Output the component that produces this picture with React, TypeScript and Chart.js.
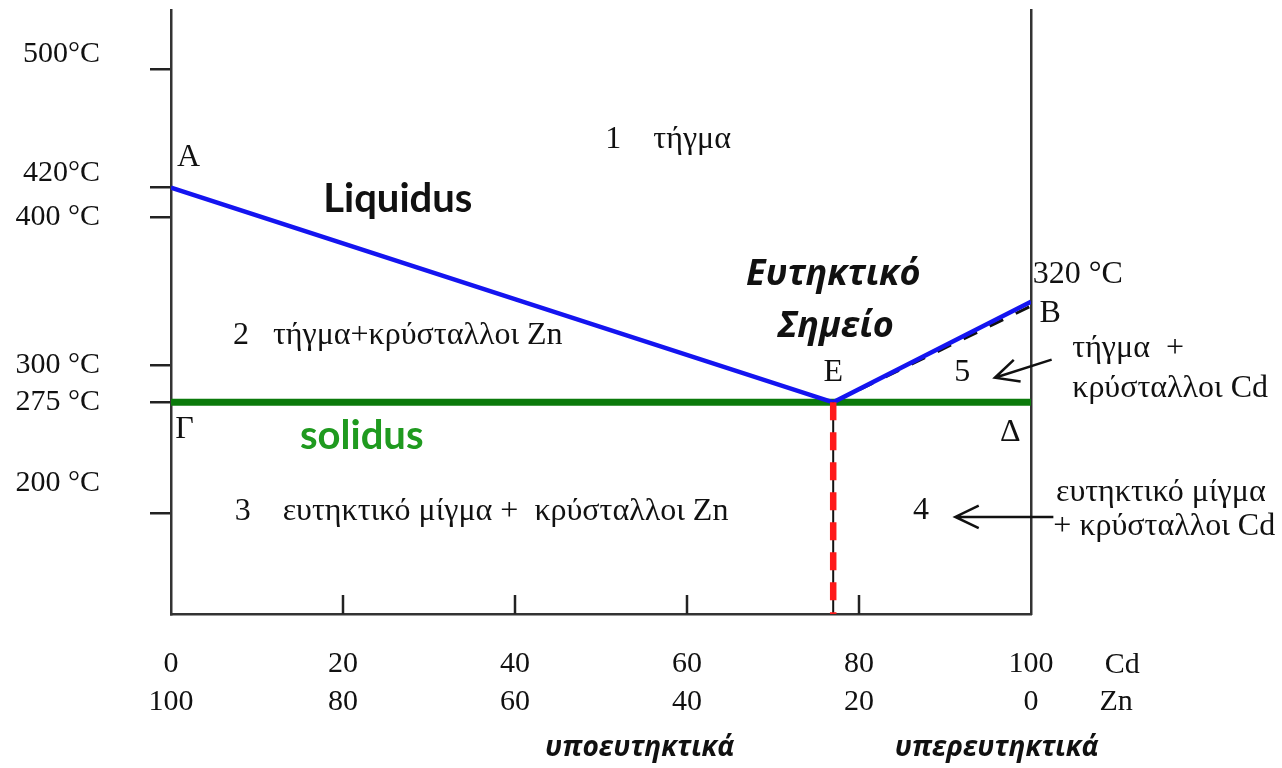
import React, { useEffect, useRef } from "react";
import { Chart, registerables } from "chart.js";

Chart.register(...registerables);

// ---- Data ----
const cdTicks = [0, 20, 40, 60, 80, 100];
const znTicks = [100, 80, 60, 40, 20, 0];
const tempTicks = [200, 275, 300, 400, 420, 500];
const tempTickLabels = ["200 °C", "275 °C", "300 °C", "400 °C", "420°C", "500°C"];

// liquidus A -> E -> B (B as drawn in the picture)
const liquidusX = [0, 77, 100];
const liquidusY = [420, 275, 343];
const liquidusDashX = [77, 100];
const liquidusDashY = [275, 340];
const solidusX = [0, 100];
const solidusY = [275, 275];
const eutecticX = [77, 77];
const eutecticY = [275, 132];

const yMin = 132;
const yMax = 540;

// ---- Styles ----
const SERIF = "'Liberation Serif', 'Times New Roman', serif";
const serifFont = `32px ${SERIF}`;
const boldSans = "bold 40px Lato, 'Open Sans', sans-serif";
const italicBoldSans = "italic bold 36px 'Open Sans', sans-serif";
const italicBoldSansSmall = "italic bold 28px 'Open Sans', sans-serif";
const textColor = "#111";
// how many blank lines to lift a y tick label above its tick (visual placement only)
const yLabelLift: Record<number, number> = { 500: 1, 420: 1, 200: 2 };

type Note = { text: string; x: number; y: number; font: string; color: string; align: CanvasTextAlign };

const notes: Note[] = [
  { text: "A", x: 0.7, y: 440, font: serifFont, color: textColor, align: "left" },
  { text: "1    τήγμα", x: 50.5, y: 452.6, font: serifFont, color: textColor, align: "left" },
  { text: "Liquidus", x: 17.7, y: 412, font: boldSans, color: textColor, align: "left" },
  { text: "Ευτηκτικό", x: 77.0, y: 361, font: italicBoldSans, color: textColor, align: "center" },
  { text: "Σημείο", x: 77.3, y: 326, font: italicBoldSans, color: textColor, align: "center" },
  { text: "320 °C", x: 100.2, y: 361, font: serifFont, color: textColor, align: "left" },
  { text: "B", x: 101, y: 334.6, font: serifFont, color: textColor, align: "left" },
  { text: "2   τήγμα+κρύσταλλοι Zn", x: 7.2, y: 320, font: serifFont, color: textColor, align: "left" },
  { text: "E", x: 77.0, y: 295, font: serifFont, color: textColor, align: "center" },
  { text: "5", x: 92, y: 295, font: serifFont, color: textColor, align: "center" },
  { text: "τήγμα  +", x: 104.8, y: 311, font: serifFont, color: textColor, align: "left" },
  { text: "κρύσταλλοι Cd", x: 104.8, y: 284, font: serifFont, color: textColor, align: "left" },
  { text: "Γ", x: 0.5, y: 256.4, font: serifFont, color: textColor, align: "left" },
  { text: "solidus", x: 15, y: 252.4, font: boldSans, color: "#1f9a1f", align: "left" },
  { text: "Δ", x: 97.6, y: 254.3, font: serifFont, color: textColor, align: "center" },
  { text: "3    ευτηκτικό μίγμα +  κρύσταλλοι Zn", x: 7.4, y: 201, font: serifFont, color: textColor, align: "left" },
  { text: "4", x: 87.2, y: 202, font: serifFont, color: textColor, align: "center" },
  { text: "ευτηκτικό μίγμα", x: 102.9, y: 214, font: serifFont, color: textColor, align: "left" },
  { text: "+ κρύσταλλοι Cd", x: 102.6, y: 191, font: serifFont, color: textColor, align: "left" },
  { text: "Cd", x: 110.6, y: 97.5, font: `30px ${SERIF}`, color: textColor, align: "center" },
  { text: "Zn", x: 109.9, y: 72.5, font: `30px ${SERIF}`, color: textColor, align: "center" },
  { text: "υποευτηκτικά", x: 54.5, y: 41.4, font: italicBoldSansSmall, color: textColor, align: "center" },
  { text: "υπερευτηκτικά", x: 96, y: 41.4, font: italicBoldSansSmall, color: textColor, align: "center" },
];

// arrows: [tailX, tailY, tipX, tipY]
const arrows = [
  [102.4, 303.8, 95.8, 291.6],
  [102.6, 197.6, 91.2, 197.6],
];

const innerTickValues = [20, 40, 60, 80];

const pts = (xs: number[], ys: number[]) => xs.map((x, i) => ({ x, y: ys[i] }));

const annotationPlugin = {
  id: "phaseNotes",
  afterDatasetsDraw(chart: any) {
    const { ctx, scales } = chart;
    const xs = scales.x;
    const ys = scales.y;
    ctx.save();
    // inner x ticks
    ctx.strokeStyle = "#222";
    ctx.lineWidth = 2.5;
    for (const v of innerTickValues) {
      const px = xs.getPixelForValue(v);
      ctx.beginPath();
      ctx.moveTo(px, chart.chartArea.bottom);
      ctx.lineTo(px, chart.chartArea.bottom - 19);
      ctx.stroke();
    }
    // arrows
    ctx.strokeStyle = "#111";
    ctx.lineWidth = 2.5;
    for (const [tx, ty, hx, hy] of arrows) {
      const x1 = xs.getPixelForValue(tx);
      const y1 = ys.getPixelForValue(ty);
      const x2 = xs.getPixelForValue(hx);
      const y2 = ys.getPixelForValue(hy);
      const ang = Math.atan2(y2 - y1, x2 - x1);
      const len = 26;
      ctx.beginPath();
      ctx.moveTo(x1, y1);
      ctx.lineTo(x2, y2);
      ctx.moveTo(x2 - len * Math.cos(ang - 0.45), y2 - len * Math.sin(ang - 0.45));
      ctx.lineTo(x2, y2);
      ctx.lineTo(x2 - len * Math.cos(ang + 0.45), y2 - len * Math.sin(ang + 0.45));
      ctx.stroke();
    }
    // text
    ctx.textBaseline = "middle";
    for (const n of notes) {
      ctx.font = n.font;
      ctx.fillStyle = n.color;
      ctx.textAlign = n.align;
      ctx.fillText(n.text, xs.getPixelForValue(n.x), ys.getPixelForValue(n.y));
    }
    ctx.restore();
  },
};

const noPadding = (s: any) => {
  s.paddingTop = 0;
  s.paddingBottom = 0;
  s.paddingLeft = 0;
  s.paddingRight = 0;
};

export default function App() {
  const ref = useRef<HTMLCanvasElement | null>(null);

  useEffect(() => {
    if (!ref.current) return;
    Chart.defaults.font.family = SERIF;
    const chart = new Chart(ref.current, {
      type: "line",
      data: {
        datasets: [
          {
            label: "Liquidus (dashed)",
            data: pts(liquidusDashX, liquidusDashY),
            borderColor: "#111",
            borderWidth: 3,
            borderDash: [15, 14],
            pointRadius: 0,
            order: 5,
          },
          {
            label: "Solidus",
            data: pts(solidusX, solidusY),
            borderColor: "#0b7a0b",
            borderWidth: 7,
            pointRadius: 0,
            order: 4,
          },
          {
            label: "Liquidus",
            data: pts(liquidusX, liquidusY),
            borderColor: "#1414f0",
            borderWidth: 4.5,
            pointRadius: 0,
            order: 3,
          },
          {
            label: "Eutectic",
            data: pts(eutecticX, eutecticY),
            borderColor: "#111",
            borderWidth: 2,
            pointRadius: 0,
            order: 2,
          },
          {
            label: "Eutectic (red)",
            data: pts(eutecticX, eutecticY),
            borderColor: "#ff1a1a",
            borderWidth: 6.5,
            borderDash: [18, 12],
            pointRadius: 0,
            order: 1,
          },
        ],
      },
      options: {
        responsive: false,
        animation: false,
        layout: { padding: { top: 10, right: 251, left: 0, bottom: 0 } },
        plugins: { legend: { display: false }, tooltip: { enabled: false } },
        scales: {
          x: {
            type: "linear",
            position: "bottom",
            min: 0,
            max: 100,
            afterBuildTicks: (s: any) => {
              s.ticks = cdTicks.map((v) => ({ value: v }));
            },
            afterFit: (s: any) => {
              s.height = 154;
              noPadding(s);
            },
            ticks: {
              autoSkip: false,
              maxRotation: 0,
              padding: 32,
              color: textColor,
              font: { family: SERIF, size: 30, lineHeight: 1.24 },
              callback: (v: any) => {
                const i = cdTicks.indexOf(Number(v));
                return [String(cdTicks[i]), String(znTicks[i])];
              },
            },
            grid: { drawOnChartArea: false, drawTicks: false },
            border: { display: true, color: "#333", width: 2.5 },
          },
          y: {
            type: "linear",
            position: "left",
            min: yMin,
            max: yMax,
            afterBuildTicks: (s: any) => {
              s.ticks = tempTicks.map((v) => ({ value: v }));
            },
            afterFit: (s: any) => {
              s.width = 171;
              noPadding(s);
            },
            ticks: {
              autoSkip: false,
              padding: 50,
              color: textColor,
              font: { family: SERIF, size: 30, lineHeight: 1.0 },
              callback: (v: any) => {
                const val = Number(v);
                const label = tempTickLabels[tempTicks.indexOf(val)];
                const lift = yLabelLift[val] || 0;
                return lift ? [label, ...Array(lift).fill("")] : label;
              },
            },
            grid: {
              drawOnChartArea: false,
              drawTicks: true,
              tickLength: 21,
              color: "#222",
              lineWidth: 2.5,
            },
            border: { display: true, color: "#333", width: 2.5 },
          },
          y2: {
            type: "linear",
            position: "right",
            min: yMin,
            max: yMax,
            afterFit: (s: any) => {
              s.width = 0;
              noPadding(s);
            },
            ticks: { display: false },
            grid: { drawOnChartArea: false, drawTicks: false },
            border: { display: true, color: "#333", width: 2.5 },
          },
        },
      },
      plugins: [annotationPlugin],
    });
    return () => chart.destroy();
  }, []);

  return (
    <canvas
      ref={ref}
      width={1282}
      height={768}
      style={{ position: "absolute", left: 0, top: 0, display: "block", background: "#fff" }}
    />
  );
}
